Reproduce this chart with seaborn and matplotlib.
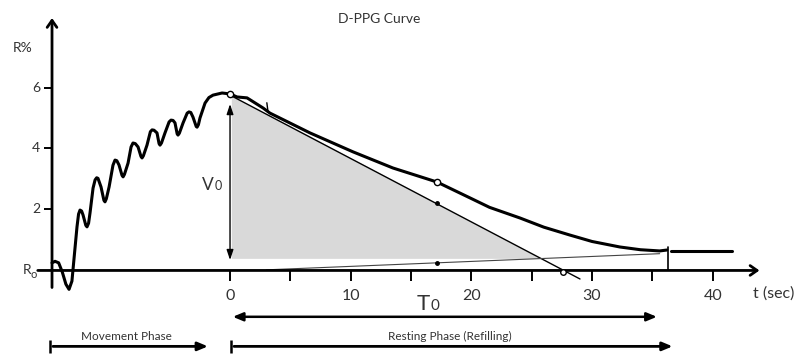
import matplotlib
matplotlib.use("Agg")
import matplotlib.pyplot as plt
import seaborn as sns
import pandas as pd

sns.set_style("white")
plt.rcParams['font.family'] = ['Lato', 'DejaVu Sans']

# --- valores (t em segundos, R em %) ---
curve_t = [-14.75, -14.5, -14.2, -13.9, -13.6, -13.34, -13.1, -12.9, -12.68, -12.55,
           -12.43, -12.3, -12.18, -11.95, -11.85, -11.72, -11.6, -11.35, -11.18, -11.05,
           -10.94, -10.69, -10.45, -10.36, -10.25, -10.02, -9.7, -9.53, -9.38, -9.2,
           -8.95, -8.86, -8.75, -8.45, -8.2, -8.04, -7.85, -7.62, -7.38, -7.29,
           -7.18, -6.88, -6.6, -6.46, -6.3, -6.05, -5.88, -5.8, -5.68, -5.39,
           -5.05, -4.89, -4.72, -4.56, -4.38, -4.31, -4.2, -3.89, -3.55, -3.4,
           -3.25, -3.07, -2.8, -2.73, -2.62, -2.49, -2.07, -1.75, -1.41, -0.66,
           0.0, 0.58, 1.41, 2.73, 3.31, 6.63, 10.19, 13.5, 17.15, 19.88,
           21.5, 24.03, 26.0, 28.17, 30.0, 32.3, 34.0, 35.6, 36.2]
curve_r = [0.25, 0.3, 0.25, -0.05, -0.45, -0.62, -0.35, 0.5, 1.43, 1.85,
           1.98, 1.95, 1.82, 1.48, 1.43, 1.55, 1.89, 2.7, 2.97, 3.04,
           3.02, 2.74, 2.3, 2.25, 2.35, 2.74, 3.45, 3.62, 3.6, 3.46,
           3.12, 3.07, 3.15, 3.52, 4.05, 4.18, 4.16, 4.05, 3.74, 3.69,
           3.76, 4.11, 4.55, 4.61, 4.6, 4.51, 4.16, 4.11, 4.18, 4.51,
           4.87, 4.93, 4.92, 4.84, 4.48, 4.44, 4.5, 4.84, 5.16, 5.2,
           5.18, 5.03, 4.72, 4.7, 4.78, 5.0, 5.49, 5.67, 5.75, 5.82,
           5.79, 5.69, 5.66, 5.33, 5.16, 4.51, 3.89, 3.36, 2.9, 2.38,
           2.07, 1.72, 1.42, 1.16, 0.95, 0.77, 0.68, 0.64, 0.67]
tail_t = [36.5, 41.6]
tail_r = [0.64, 0.64]

tangent_t = [0.0, 29.0]
tangent_r = [5.75, -0.28]
base_t = [3.0, 35.6]
base_r = [0.02, 0.55]
area_t = [0.15, 0.15, 6.6, 25.8]
area_r = [0.38, 5.7, 4.4, 0.38]

x_ticks = [0, 10, 20, 30, 40]
x_minor = [5, 15, 25, 35]
y_ticks = [2, 4, 6]
v0_top, v0_bottom = 5.55, 0.25
t0_end = 36.3
movement_span = [-14.9, -1.6]
resting_span = [0.1, 36.9]

curve = pd.DataFrame({"t": curve_t, "R": curve_r})
tail = pd.DataFrame({"t": tail_t, "R": tail_r})

fig = plt.figure(figsize=(7.97, 3.54), dpi=100)
ax = fig.add_axes([0, 0, 1, 1])
ax.set_xlim(-19.06, 46.98)
ax.set_ylim(-2.74, 8.87)
ax.axis("off")

# área cinza sob a tangente
ax.fill(area_t, area_r, color="#d9d9d9", lw=0, zorder=1)

# curva D-PPG
sns.lineplot(data=curve, x="t", y="R", sort=False, estimator=None, color="black",
             lw=2.2, ax=ax, zorder=4, solid_joinstyle="round", solid_capstyle="round")
sns.lineplot(data=tail, x="t", y="R", sort=False, estimator=None, color="black",
             lw=2.2, ax=ax, zorder=4)

# tangente e linha de base
ax.plot(tangent_t, tangent_r, color="black", lw=1.0, zorder=3)
ax.plot(base_t, base_r, color="#444444", lw=0.8, zorder=3)

# marcadores
ax.plot([0, 17.15], [5.79, 2.9], 'o', ms=4.5, mfc="white", mec="black", mew=1, zorder=5)
ax.plot([27.6], [-0.05], 'o', ms=4, mfc="white", mec="black", mew=1, zorder=5)
ax.plot([17.15, 17.15], [2.2, 0.25], 'o', ms=2.5, color="black", zorder=5)
ax.plot([3.05, 3.15], [5.5, 5.2], color="black", lw=1, zorder=5)
ax.plot([t0_end, t0_end], [0.78, 0.0], color="black", lw=1.2, zorder=5)

# eixos com setas
ax.annotate("", xy=(44.1, 0), xytext=(-16.16, 0),
            arrowprops=dict(arrowstyle="->,head_length=0.5,head_width=0.35", lw=2, color="black"))
ax.annotate("", xy=(-14.75, 8.37), xytext=(-14.75, -0.65),
            arrowprops=dict(arrowstyle="->,head_length=0.5,head_width=0.35", lw=2, color="black"))
ax.vlines(x_ticks + x_minor, -0.33, 0, color="black", lw=1.4)
ax.hlines(y_ticks, -15.4, -14.75, color="black", lw=1.4)
for t in x_ticks:
    ax.text(t, -0.84, str(t), ha="center", va="center", fontsize=11.5, color="#333333")
for r in y_ticks:
    ax.text(-15.75, r, str(r), ha="right", va="center", fontsize=10, color="#333333")
ax.text(-16.5, 0, "R", ha="right", va="center", fontsize=10, color="#333333")
ax.text(-16.55, -0.12, "o", ha="left", va="center", fontsize=8, color="#333333")
ax.text(-17.2, 7.31, "R%", ha="center", va="center", fontsize=10, color="#333333")
ax.text(43.3, -0.77, "t (sec)", ha="left", va="center", fontsize=11.5, color="#333333")
ax.text(12.34, 8.26, "D-PPG Curve", ha="center", va="center", fontsize=10, color="#333333")

# V0
ax.annotate("", xy=(0, v0_top), xytext=(0, v0_bottom),
            arrowprops=dict(arrowstyle="<|-|>,head_length=0.6,head_width=0.2", lw=1, color="black"))
ax.text(-2.35, 2.63, "V", ha="left", va="baseline", fontsize=12.5, color="#333333")
ax.text(-1.25, 2.63, "0", ha="left", va="baseline", fontsize=9, color="#333333")

# T0
ax.annotate("", xy=(35.6, -1.52), xytext=(0, -1.52),
            arrowprops=dict(arrowstyle="<|-|>,head_length=0.6,head_width=0.25", lw=1.8, color="black"))
ax.text(15.5, -1.3, "T", ha="left", va="baseline", fontsize=16, color="#333333")
ax.text(16.6, -1.3, "0", ha="left", va="baseline", fontsize=11, color="#333333")

# fases
for span, label in [(movement_span, "Movement Phase"), (resting_span, "Resting Phase (Refilling)")]:
    ax.annotate("", xy=(span[1], -2.49), xytext=(span[0], -2.49),
                arrowprops=dict(arrowstyle="-|>,head_length=0.6,head_width=0.25", lw=2, color="black"))
    ax.vlines(span[0], -2.72, -2.27, color="black", lw=1.8)
    ax.text((span[0] + span[1]) / 2 - 0.3, -2.18, label, ha="center", va="center",
            fontsize=8.5, color="#333333")

fig.savefig("out.png", dpi=100)
